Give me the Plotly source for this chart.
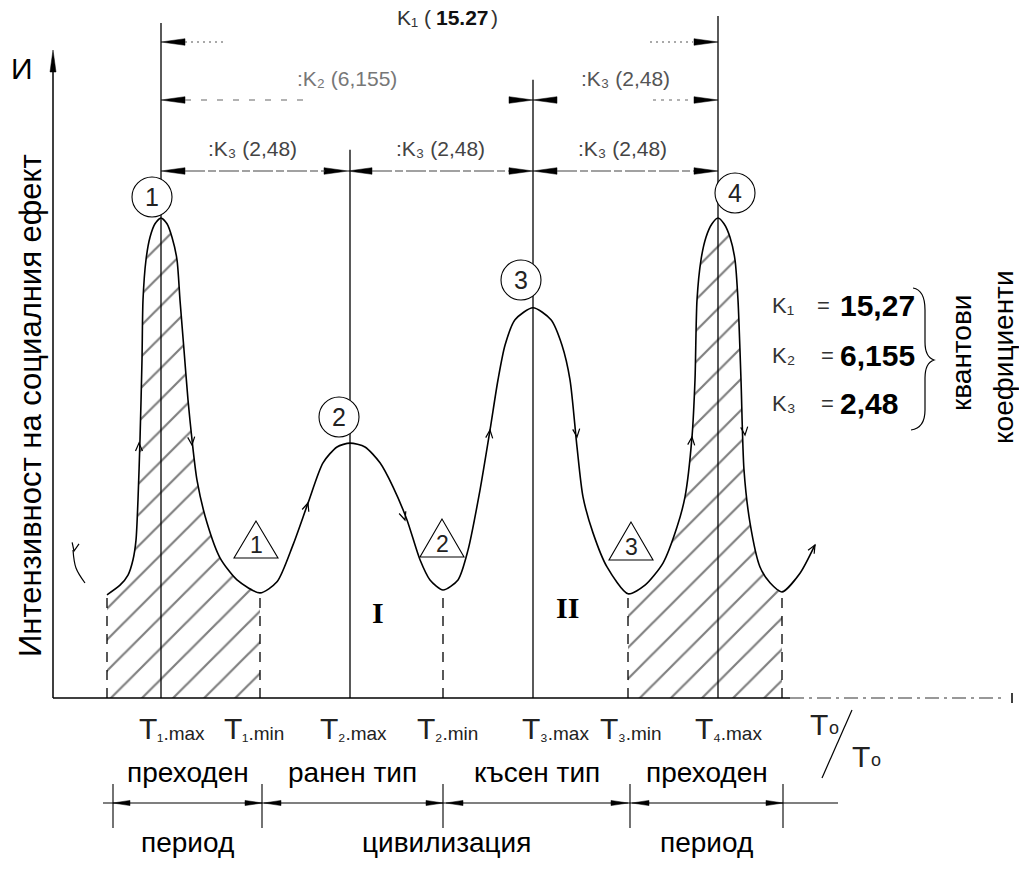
import math
import plotly.graph_objects as go

W, H = 1019, 870
# pixel -> data helpers (axis: time t, intensity I)
X0, SX = 53.0, 10.0
Y0, SY = 698.0, 4.8
def X(px): return (px - X0) / SX
def Y(py): return (Y0 - py) / SY

# ---------------- data ----------------
T_CURVE = [5.4, 6.7, 7.5, 8.0, 8.3, 8.5, 8.7, 8.9, 9.0, 9.3,
           9.7, 10.2, 10.8, 11.4, 11.9, 12.4, 12.7, 13.1, 13.5, 13.9,
           14.4, 15.4, 16.7, 18.4, 20.7, 22.4, 24.0, 25.5, 27.0, 28.4,
           29.7, 31.2, 32.7, 34.0, 35.4, 36.7, 37.7, 39.0, 40.5, 41.5,
           42.7, 43.7, 44.5, 45.2, 46.2, 48.0, 49.8, 50.9, 51.7, 52.4,
           53.0, 54.0, 55.4, 57.5, 59.2, 61.0, 62.4, 63.2, 63.9, 64.2,
           64.4, 64.8, 65.3, 65.9, 66.5, 67.1, 67.7, 68.2, 68.5, 68.8,
           69.1, 69.7, 70.7, 71.7, 72.9, 74.7, 76.2]
I_CURVE = [21.5, 23.5, 25.6, 28.8, 32.9, 41.3, 53.8, 70.4, 82.9, 91.3,
           96.0, 98.8, 100.0, 98.8, 96.0, 91.3, 82.9, 72.5, 62.1, 53.8,
           45.4, 36.5, 29.2, 24.6, 21.9, 24.2, 31.9, 40.6, 49.0, 52.3,
           53.1, 52.3, 49.0, 44.0, 37.1, 28.8, 24.6, 22.5, 24.6, 30.8,
           43.3, 55.8, 66.3, 73.5, 78.8, 81.3, 78.8, 73.5, 66.3, 52.3,
           41.9, 34.4, 27.3, 21.7, 23.5, 28.1, 35.6, 41.9, 54.4, 66.3,
           82.9, 91.3, 96.0, 98.8, 100.0, 98.8, 96.0, 91.3, 82.9, 66.3,
           47.5, 36.5, 27.3, 24.0, 22.1, 26.0, 31.9]

HATCH_SPANS = [(5.4, 20.7), (57.5, 72.9)]
TICK_T = [10.8, 20.7, 29.7, 39.0, 48.0, 57.5, 66.5]
TICK_SUBS = ["₁.max", "₁.min", "₂.max", "₂.min", "₃.max", "₃.min", "₄.max"]
MAX_T = [10.8, 29.7, 48.0, 66.5]
MAX_LINE_TOP = [140.6, 114.2, 128.8, 142.1]
PEAK_NUMS = ["1", "2", "3", "4"]
MIN_T = [5.4, 20.7, 39.0, 57.5, 72.9]
MIN_I = [21.5, 21.9, 22.5, 21.7, 22.1]
TROUGH_NUMS = ["1", "2", "3"]
K_NAMES = ["K₁", "K₂", "K₃"]
K_VALUES = ["15,27", "6,155", "2,48"]
PERIOD_BOUNDS_T = [6.0, 20.9, 39.0, 57.7, 73.0]
PERIOD_TOP = ["преходен", "ранен тип", "късен тип", "преходен"]
PERIOD_BOTTOM = ["период", "цивилизация", "период"]

FONT = "Liberation Sans, Arial, sans-serif"
shapes, ann = [], []

def line(x0, y0, x1, y1, w=1.3, color="black", dash=None):
    d = dict(type="line", xref="x", yref="y", x0=X(x0), y0=Y(y0), x1=X(x1), y1=Y(y1),
             line=dict(color=color, width=w))
    if dash: d["line"]["dash"] = dash
    shapes.append(d)

def tri(tx, ty, d, L=24, h=3.3, color="black"):
    bx = tx - d * L
    shapes.append(dict(type="path", xref="x", yref="y",
                       path=f"M {X(tx)},{Y(ty)} L {X(bx)},{Y(ty - h)} L {X(bx)},{Y(ty + h)} Z",
                       fillcolor=color, line=dict(color=color, width=0.5)))

def chevron(tx, ty, sx, sy, L=8, w=3.5):
    dx, dy = tx - sx, ty - sy
    n = math.hypot(dx, dy); dx, dy = dx / n, dy / n
    px_, py_ = -dy, dx
    ax1, ay1 = tx - L * dx + w * px_, ty - L * dy + w * py_
    ax2, ay2 = tx - L * dx - w * px_, ty - L * dy - w * py_
    shapes.append(dict(type="path", xref="x", yref="y",
                       path=f"M {X(ax1)},{Y(ay1)} L {X(tx)},{Y(ty)} L {X(ax2)},{Y(ay2)}",
                       line=dict(color="black", width=1.2)))

def text(px, py, s, size=22, color="black", family=FONT, angle=0, xanchor="center",
         weight="normal", **kw):
    ann.append(dict(x=X(px), y=Y(py), xref="x", yref="y", text=s, showarrow=False,
                    font=dict(size=size, color=color, family=family, weight=weight),
                    textangle=angle, xanchor=xanchor, yanchor="middle", **kw))

fig = go.Figure()

# hatched areas
for a, b in HATCH_SPANS:
    xs = [t for t in T_CURVE if a <= t <= b]
    ys = [I_CURVE[i] for i, t in enumerate(T_CURVE) if a <= t <= b]
    fig.add_trace(go.Scatter(x=xs, y=ys, mode="lines", fill="tozeroy",
                             line=dict(width=0, shape="spline", smoothing=0.7),
                             fillcolor="rgba(0,0,0,0)",
                             fillpattern=dict(shape="/", size=22, solidity=0.1,
                                              fgcolor="black", bgcolor="rgba(0,0,0,0)"),
                             hoverinfo="skip", showlegend=False))

# main curve
fig.add_trace(go.Scatter(x=T_CURVE, y=I_CURVE, mode="lines",
                         line=dict(color="black", width=1.6, shape="spline", smoothing=0.7),
                         hoverinfo="skip", showlegend=False))

# small lead-in arc at left
fig.add_trace(go.Scatter(x=[X(73), X(76), X(85)], y=[Y(550), Y(568), Y(583)], mode="lines",
                         line=dict(color="black", width=1.2, shape="spline"),
                         hoverinfo="skip", showlegend=False))

# vertical lines at maxima (solid) and minima (dashed)
for t, top in zip(MAX_T, MAX_LINE_TOP):
    shapes.append(dict(type="line", xref="x", yref="y", x0=t, x1=t, y0=0, y1=top,
                       line=dict(color="black", width=1.3)))
for t, v in zip(MIN_T, MIN_I):
    shapes.append(dict(type="line", xref="x", yref="y", x0=t, x1=t, y0=0, y1=v,
                       line=dict(color="black", width=1.3, dash="10px,8px")))

# baseline (time axis)
line(53, 698, 790, 698, w=1.5)
line(790, 698, 1005, 698, w=1.2, dash="14px,5px,3px,5px", color="#333")
line(1012, 693, 1012, 703, w=1.5)
# intensity axis with arrow
line(53, 698, 53, 70, w=1.5)
shapes.append(dict(type="path", xref="x", yref="y",
                   path=f"M {X(53)},{Y(50)} L {X(50)},{Y(72)} L {X(56)},{Y(72)} Z",
                   fillcolor="black", line=dict(color="black", width=0.5)))

# dimension rows
tri(161, 42, -1); tri(718, 42, +1)
line(185, 42, 223, 42, w=1.2, dash="2px,4px", color="#555")
line(650, 42, 693, 42, w=1.2, dash="2px,4px", color="#555")
tri(161, 100, -1); tri(533, 100, +1); tri(533, 100, -1); tri(718, 100, +1)
line(185, 100, 307, 100, w=1.1, dash="6px,10px", color="#666")
line(653, 100, 693, 100, w=1.1, dash="3px,5px", color="#666")
for tx, d in [(161, -1), (348, 1), (348, -1), (533, 1), (533, -1), (718, 1)]:
    tri(tx, 171, d)
for a, b in [(185, 325), (372, 509), (557, 694)]:
    line(a, 171, b, 171, w=1.1, dash="20px,3px,8px,3px", color="#444")

# dimension labels
text(433, 17, "K₁ (", size=21, color="#333", xanchor="right")
text(434, 17, "15.27", size=21, color="#111", xanchor="left", weight="bold")
text(489, 17, ")", size=21, color="#333", xanchor="left")
text(347, 78, ":K₂ (6,155)", size=21, color="#777")
text(625, 78, ":K₃ (2,48)", size=21, color="#555")
for cx in [252, 440, 622]:
    text(cx, 148, ":K₃ (2,48)", size=21, color="#444")

# circled peak numbers
for (cx, cy), s in zip([(152, 197), (339, 417), (521, 280), (735, 193)], PEAK_NUMS):
    r = 20
    shapes.append(dict(type="circle", xref="x", yref="y", x0=X(cx - r), x1=X(cx + r),
                       y0=Y(cy + r), y1=Y(cy - r), line=dict(color="black", width=1.1),
                       fillcolor="white"))
    text(cx, cy, s, size=25, color="#222")

# triangle trough numbers
for (cx, top, bot, half), s in zip([(256, 521, 558, 22), (442, 519, 557, 22), (631, 522, 560, 22)],
                                   TROUGH_NUMS):
    shapes.append(dict(type="path", xref="x", yref="y",
                       path=f"M {X(cx)},{Y(top)} L {X(cx - half)},{Y(bot)} L {X(cx + half)},{Y(bot)} Z",
                       line=dict(color="black", width=1.1), fillcolor="white"))
    text(cx, bot - 13, s, size=23, color="#222")

# flow arrows along the curve (tip, tail)
flows = [((139, 443), (139, 453)), ((192, 445), (191, 435)), ((308, 503), (305, 512)),
         ((405, 520), (402, 511)), ((490, 430), (489, 440)), ((577, 437), (576, 427)),
         ((692, 437), (691, 447)), ((745, 435), (744, 425)), ((815, 545), (810, 554)),
         ((74, 551), (76, 541))]
for (tx, ty), (sx, sy) in flows:
    chevron(tx, ty, sx, sy)

# region labels
text(378, 612, "I", size=30, family="Liberation Serif, serif", weight="bold")
text(567, 607, "II", size=30, family="Liberation Serif, serif", weight="bold")

# time tick labels: big "T" + small subscript part
for t, s, off in zip(TICK_T, TICK_SUBS, [-24, -38, -32, -28, -13, -30, -25]):
    ann.append(dict(x=t, y=Y(728), xref="x", yref="y", xshift=off, showarrow=False, text="T",
                    font=dict(size=30, color="#222", family=FONT), xanchor="left", yanchor="middle"))
    ann.append(dict(x=t, y=Y(728), xref="x", yref="y", xshift=off + 18, yshift=-5, showarrow=False,
                    text=s, font=dict(size=19, color="#222", family=FONT),
                    xanchor="left", yanchor="middle"))
text(819, 724, "T", size=30, color="#222")
text(834, 728, "o", size=18, color="#222")
text(861, 756, "T", size=30, color="#222")
text(876, 760, "o", size=18, color="#222")
line(852, 710, 822, 778, w=1.2)

# axis titles
text(30, 406, "Интензивност на социалния ефект", size=31, angle=-90)
text(22, 68, "И", size=30)

# quantum coefficients legend
for (row_y, eq_x), k, v in zip([(305, 823), (355, 827), (403, 827)], K_NAMES, K_VALUES):
    text(770, row_y, k, size=22, color="#333", xanchor="left")
    text(eq_x, row_y, "=", size=22, color="#333")
    text(838, row_y, v, size=30, xanchor="left", weight="bold")
shapes.append(dict(type="path", xref="x", yref="y",
                   path=(f"M {X(913)},{Y(288)} Q {X(925)},{Y(290)} {X(925)},{Y(310)} "
                         f"L {X(925)},{Y(342)} Q {X(925)},{Y(357)} {X(934)},{Y(360)} "
                         f"Q {X(925)},{Y(363)} {X(925)},{Y(378)} L {X(925)},{Y(410)} "
                         f"Q {X(925)},{Y(428)} {X(911)},{Y(430)}"),
                   line=dict(color="black", width=1.2)))
text(961, 353, "квантови", size=28, angle=-90)
text(1003, 357, "коефициенти", size=28, angle=-90)

# period brackets
PY = 803
line(103, PY, 838, PY, w=1.1)
for t in PERIOD_BOUNDS_T:
    shapes.append(dict(type="line", xref="x", yref="y", x0=t, x1=t, y0=Y(784), y1=Y(828),
                       line=dict(color="black", width=1.1)))
for tx, d in [(113, -1), (262, 1), (264, -1), (443, 1), (446, -1), (628, 1), (632, -1), (783, 1)]:
    tri(tx, PY, d, L=17, h=2.6)
for a, b, s in zip(PERIOD_BOUNDS_T[:-1], PERIOD_BOUNDS_T[1:], PERIOD_TOP):
    ann.append(dict(x=(a + b) / 2, y=Y(772), xref="x", yref="y", text=s, showarrow=False,
                    font=dict(size=28, color="black", family=FONT)))
for (a, b), s in zip([(PERIOD_BOUNDS_T[0], PERIOD_BOUNDS_T[1]),
                      (PERIOD_BOUNDS_T[1], PERIOD_BOUNDS_T[3]),
                      (PERIOD_BOUNDS_T[3], PERIOD_BOUNDS_T[4])], PERIOD_BOTTOM):
    ann.append(dict(x=(a + b) / 2, y=Y(842), xref="x", yref="y", text=s, showarrow=False,
                    font=dict(size=28, color="black", family=FONT)))

fig.update_layout(
    width=W, height=H, autosize=False,
    margin=dict(l=0, r=0, t=0, b=0),
    paper_bgcolor="white", plot_bgcolor="white",
    xaxis=dict(range=[X(0), X(W)], visible=False, fixedrange=True),
    yaxis=dict(range=[Y(H), Y(0)], visible=False, fixedrange=True),
    shapes=shapes, annotations=ann, showlegend=False,
)
fig.write_html("out.html", post_script="document.body.style.margin='0';",
               config={"displayModeBar": False})
